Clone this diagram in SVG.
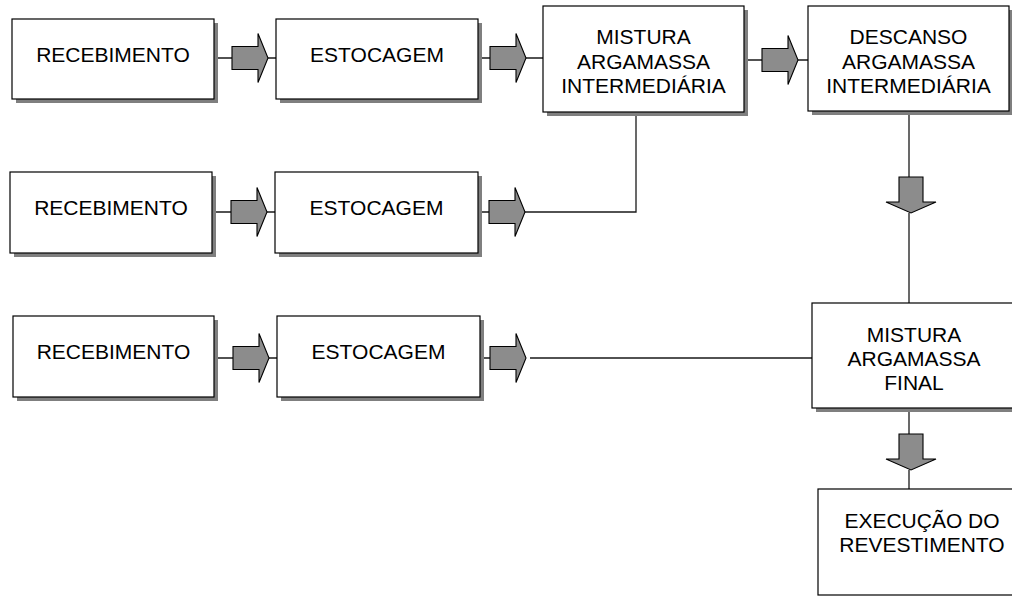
<svg xmlns="http://www.w3.org/2000/svg" width="1012" height="596" viewBox="0 0 1012 596">
  <style>
    .shadow { fill: #7f7f7f; }
    .box { fill: #ffffff; stroke: #000000; stroke-width: 1.2; }
    .lbl { font-family: "Liberation Sans", Arial, sans-serif; font-size: 21px; fill: #000000; text-anchor: middle; }
    .wire { fill: none; stroke: #1a1a1a; stroke-width: 1.3; }
    .blk { fill: #8c8c8c; stroke: #000000; stroke-width: 1.1; stroke-linejoin: miter; }
  </style>
  <defs>
    <!-- block arrow pointing right, origin at body-left / centre line -->
    <polygon id="arrR" points="0,-11.5 26,-11.5 26,-24.5 36,0 26,24.5 26,11.5 0,11.5"/>
    <!-- block arrow pointing down, origin at body-top / centre line -->
    <polygon id="arrD" points="-12,0 12,0 12,25 25,25 0,36 -25,25 -12,25"/>
  </defs>

  <rect width="1012" height="596" fill="#ffffff"/>

  <!-- connectors -->
  <g id="connectors">
    <!-- row 1 -->
    <path class="wire" d="M214,58 H233 M268,58 H277"/>
    <use href="#arrR" class="blk" x="232" y="58"/>
    <path class="wire" d="M478,58 H491 M526,58 H543"/>
    <use href="#arrR" class="blk" x="490" y="58"/>
    <path class="wire" d="M744,60 H763 M798,60 H808"/>
    <use href="#arrR" class="blk" x="762" y="60"/>
    <!-- row 2 -->
    <path class="wire" d="M212,212 H232 M267,212 H275"/>
    <use href="#arrR" class="blk" x="231" y="212"/>
    <path class="wire" d="M478,212 H490 M524,212 H636 V112"/>
    <use href="#arrR" class="blk" x="489" y="212"/>
    <!-- row 3 -->
    <path class="wire" d="M214,358 H234 M269,358 H277"/>
    <use href="#arrR" class="blk" x="233" y="358"/>
    <path class="wire" d="M480,358 H491 M530,358 H812"/>
    <use href="#arrR" class="blk" x="490" y="358"/>
    <!-- right column -->
    <path class="wire" d="M909,112 V178 M909,213 V303"/>
    <use href="#arrD" class="blk" x="911" y="177"/>
    <path class="wire" d="M909,408 V435 M909,470 V489"/>
    <use href="#arrD" class="blk" x="911" y="434"/>
  </g>

  <g id="receb1">
    <rect class="shadow" x="16" y="23" width="202" height="80"/>
    <rect class="box" x="12" y="19" width="202" height="80"/>
    <text class="lbl" x="113" y="62">RECEBIMENTO</text>
  </g>
  <g id="estoc1">
    <rect class="shadow" x="280" y="23" width="202" height="80"/>
    <rect class="box" x="276" y="19" width="202" height="80"/>
    <text class="lbl" x="377" y="62">ESTOCAGEM</text>
  </g>
  <g id="mistura-intermediaria">
    <rect class="shadow" x="547" y="10" width="201" height="106"/>
    <rect class="box" x="543" y="6" width="201" height="106"/>
    <text class="lbl" x="643.5" y="44">MISTURA</text>
    <text class="lbl" x="643.5" y="68.5">ARGAMASSA</text>
    <text class="lbl" x="643.5" y="93">INTERMEDIÁRIA</text>
  </g>
  <g id="descanso">
    <rect class="shadow" x="812" y="10" width="201" height="105"/>
    <rect class="box" x="808" y="6" width="201" height="105"/>
    <text class="lbl" x="908.5" y="44">DESCANSO</text>
    <text class="lbl" x="908.5" y="68.5">ARGAMASSA</text>
    <text class="lbl" x="908.5" y="92.5">INTERMEDIÁRIA</text>
  </g>

  <g id="receb2">
    <rect class="shadow" x="14" y="176" width="202" height="81"/>
    <rect class="box" x="10" y="172" width="202" height="81"/>
    <text class="lbl" x="111" y="215">RECEBIMENTO</text>
  </g>
  <g id="estoc2">
    <rect class="shadow" x="279" y="176" width="203" height="81"/>
    <rect class="box" x="275" y="172" width="203" height="81"/>
    <text class="lbl" x="376.5" y="215">ESTOCAGEM</text>
  </g>

  <g id="receb3">
    <rect class="shadow" x="17" y="320" width="201" height="81"/>
    <rect class="box" x="13" y="316" width="201" height="81"/>
    <text class="lbl" x="113.5" y="359">RECEBIMENTO</text>
  </g>
  <g id="estoc3">
    <rect class="shadow" x="281" y="320" width="203" height="81"/>
    <rect class="box" x="277" y="316" width="203" height="81"/>
    <text class="lbl" x="378.5" y="359">ESTOCAGEM</text>
  </g>

  <g id="mistura-final">
    <rect class="shadow" x="816" y="307" width="204" height="105"/>
    <rect class="box" x="812" y="303" width="204" height="105"/>
    <text class="lbl" x="914" y="342">MISTURA</text>
    <text class="lbl" x="914" y="366">ARGAMASSA</text>
    <text class="lbl" x="914" y="390">FINAL</text>
  </g>

  <g id="execucao">
    <rect class="box" x="818" y="489" width="208" height="106"/>
    <text class="lbl" x="922" y="528">EXECUÇÃO DO</text>
    <text class="lbl" x="922" y="552">REVESTIMENTO</text>
  </g>
</svg>
